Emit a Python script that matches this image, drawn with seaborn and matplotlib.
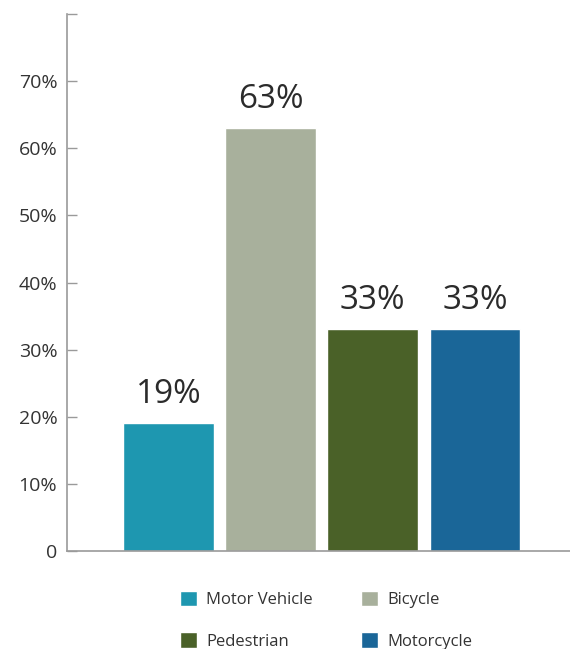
import matplotlib
matplotlib.use("Agg")
import matplotlib.pyplot as plt
import seaborn as sns
import pandas as pd
from matplotlib.patches import Patch

categories = ["Motor Vehicle", "Bicycle", "Pedestrian", "Motorcycle"]
values = [19, 63, 33, 33]
colors = ["#1e97b0", "#a8b09c", "#4a6128", "#1a6698"]
ytick_vals = [0, 10, 20, 30, 40, 50, 60, 70, 80]
ytick_labels = ["0", "10%", "20%", "30%", "40%", "50%", "60%", "70%", ""]

sns.set_style("white")
plt.rcParams["font.family"] = ["Open Sans", "DejaVu Sans"]

df = pd.DataFrame({"cat": categories, "val": values})

fig = plt.figure(figsize=(5.7, 6.49), dpi=100)
ax = fig.add_axes([67/570, 1-551/649, 1-67/570, (551-14)/649])

sns.barplot(data=df, x="cat", y="val", hue="cat", palette=colors,
            width=0.89, legend=False, ax=ax, saturation=1)

for c in ax.containers:
    ax.bar_label(c, fmt="{:.0f}%", padding=9, fontsize=24, color="#2b2b2b")

ax.set_ylim(0, 80)
ax.set_xlim(-0.993, 3.93)
ax.set_yticks(ytick_vals)
ax.set_yticklabels(ytick_labels)
ax.set_xticks([])
ax.set_xlabel("")
ax.set_ylabel("")
ax.tick_params(axis="y", direction="in", length=7, width=1, color="#9a9a9a",
               labelsize=14, labelcolor="#333333", pad=7, left=True)
for s in ["top", "right"]:
    ax.spines[s].set_visible(False)
for s in ["left", "bottom"]:
    ax.spines[s].set_color("#9a9a9a")
    ax.spines[s].set_linewidth(1.2)

order = [0, 2, 1, 3]
handles = [Patch(facecolor=colors[i], label=categories[i]) for i in order]
fig.legend(handles=handles, loc="upper left", bbox_to_anchor=(165/570, 1-576/649),
           ncol=2, frameon=False, fontsize=12, handlelength=1.02, handleheight=1.02,
           handletextpad=0.54, columnspacing=2.9, labelspacing=1.45,
           labelcolor="#333333")

fig.savefig("out.png", dpi=100, facecolor="white")
